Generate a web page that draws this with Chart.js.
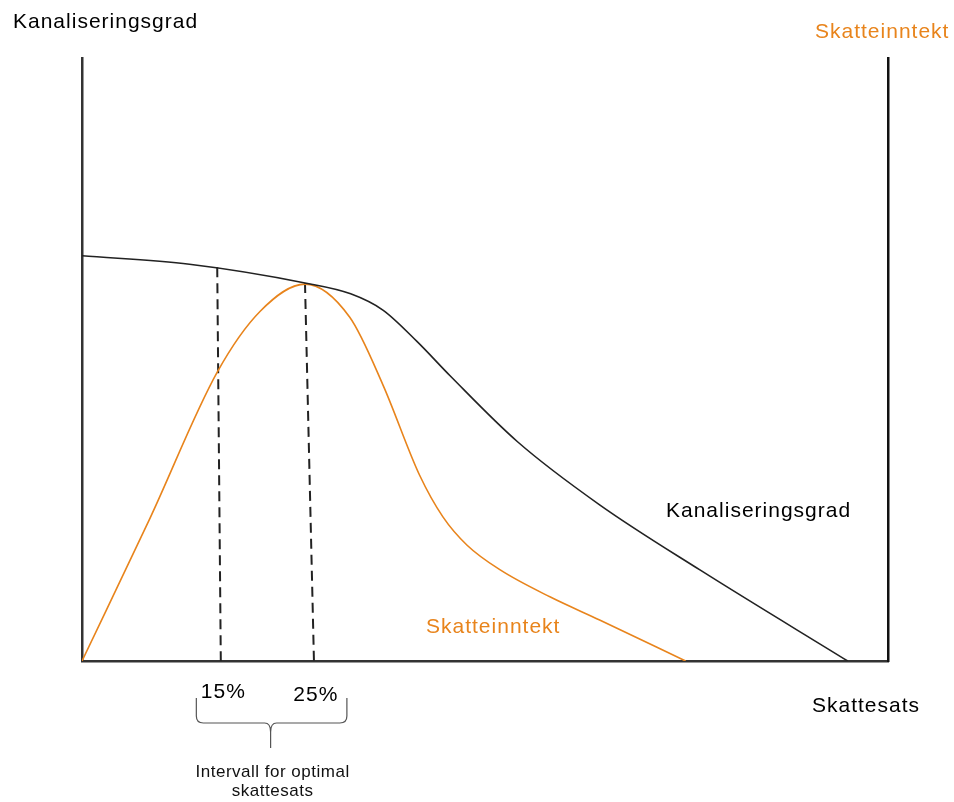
<!DOCTYPE html>
<html>
<head>
<meta charset="utf-8">
<title>Kanaliseringsgrad og skatteinntekt</title>
<script src="https://cdn.jsdelivr.net/npm/chart.js@4/dist/chart.umd.min.js"></script>
<style>
  html, body { margin: 0; padding: 0; background: #fff; }
  #wrap { width: 954px; height: 802px; }
</style>
</head>
<body>
<div id="wrap"><canvas id="chart" width="954" height="802"></canvas></div>
<script>
// skattesats (%) og kanaliseringsgrad
const channelRate = [0, 12, 24.9, 30, 33.6, 37.4, 41.1, 48.6, 57.8, 69, 85.5]
const channelling = [67.2, 65.8, 62.7, 60.9, 58.2, 53.0, 47.3, 36.4, 25.9, 15.1, 0]

// skattesats (%) og skatteinntekt
const revenueRate = [0, 7.6, 15.1, 19.9, 24.9, 29.9, 33.6, 37.7, 40.3, 43, 46.7, 52.3, 57.8, 67.4]
const revenue = [0, 23.7, 47.9, 58.0, 62.5, 57.0, 45.8, 30.8, 23.9, 19.2, 15.1, 10.6, 6.8, 0]

// stiplede linjer for intervallet
const lowLine = {x: [15.1, 15.5], y: [65.3, 0]}
const highLine = {x: [24.9, 25.9], y: [62.7, 0]}
const tickValues = [15, 25]
const tickLabels = ['15%', '25%']

const orange = '#e8841c'
const dark = '#222'
const font = '"Liberation Sans", Arial, Helvetica, sans-serif'

const toPoints = (xs, ys) => xs.map((x, i) => ({x: x, y: ys[i]}))

const labels = {
    id: 'labels',
    afterDraw(chart) {
        const ctx = chart.ctx
        const xs = chart.scales.x
        const ys = chart.scales.y
        const txt = (s, x, y, size, color, align) => {
            ctx.font = size + 'px ' + font
            ctx.fillStyle = color
            ctx.textAlign = align || 'left'
            ctx.textBaseline = 'alphabetic'
            ctx.fillText(s, x, y)
        }
        ctx.save()
        ctx.letterSpacing = '1px'
        // aksetitler
        txt('Kanaliseringsgrad', 13, 28, 21, '#000')
        txt('Skatteinntekt', 815, 38, 21, orange)
        txt('Skattesats', 812, 712, 21, '#000')
        // kurvenavn
        txt('Kanaliseringsgrad', 666, 517, 21, '#000')
        txt('Skatteinntekt', 426, 633, 21, orange)

        // 15% og 25%
        tickValues.forEach((v, i) => {
            txt(tickLabels[i], xs.getPixelForValue(v) + 7 + i * 3, 698 + i * 3, 21, '#000', 'center')
        })

        // klamme
        const l = xs.getPixelForValue(15) - 20
        const r = xs.getPixelForValue(25) + 41
        const m = (l + r) / 2 - 1
        const top = ys.bottom + 37, mid = ys.bottom + 62, tip = ys.bottom + 87
        ctx.strokeStyle = '#555'
        ctx.lineWidth = 1.2
        ctx.beginPath()
        ctx.moveTo(l, top)
        ctx.lineTo(l, mid - 7)
        ctx.quadraticCurveTo(l, mid, l + 7, mid)
        ctx.lineTo(m - 6, mid)
        ctx.quadraticCurveTo(m, mid, m, mid + 9)
        ctx.lineTo(m, tip)
        ctx.moveTo(r, top)
        ctx.lineTo(r, mid - 7)
        ctx.quadraticCurveTo(r, mid, r - 7, mid)
        ctx.lineTo(m + 6, mid)
        ctx.quadraticCurveTo(m, mid, m, mid + 9)
        ctx.stroke()

        ctx.letterSpacing = '0.5px'
        txt('Intervall for optimal', m + 2, 777, 17, '#111', 'center')
        txt('skattesats', m + 2, 796, 17, '#111', 'center')
        ctx.restore()
    }
}

const noSize = (prop) => (s) => { s[prop] = 0 }

new Chart(document.getElementById('chart'), {
    type: 'line',
    data: {
        datasets: [
            {
                data: toPoints(channelRate, channelling),
                borderColor: dark, borderWidth: 1.6,
                pointRadius: 0, cubicInterpolationMode: 'monotone'
            },
            {
                data: toPoints(revenueRate, revenue),
                borderColor: orange, borderWidth: 1.6,
                pointRadius: 0, cubicInterpolationMode: 'monotone'
            },
            {
                data: toPoints(lowLine.x, lowLine.y),
                borderColor: dark, borderWidth: 2, borderDash: [10, 6],
                pointRadius: 0
            },
            {
                data: toPoints(highLine.x, highLine.y),
                borderColor: dark, borderWidth: 2, borderDash: [10, 6],
                pointRadius: 0
            }
        ]
    },
    options: {
        responsive: false,
        animation: false,
        layout: {padding: {left: 82, right: 66, top: 58, bottom: 141}},
        plugins: {legend: {display: false}, tooltip: {enabled: false}},
        scales: {
            x: {
                type: 'linear', min: 0, max: 90,
                grid: {display: false},
                ticks: {display: false},
                border: {display: true, color: '#333', width: 2.5},
                afterFit: noSize('height')
            },
            y: {
                min: 0, max: 100, position: 'left',
                grid: {display: false},
                ticks: {display: false},
                border: {display: true, color: '#333', width: 2.5},
                afterFit: noSize('width')
            },
            y2: {
                min: 0, max: 100, position: 'right',
                grid: {display: false},
                ticks: {display: false},
                border: {display: true, color: '#111', width: 2.5},
                afterFit: noSize('width')
            }
        }
    },
    plugins: [labels]
})
</script>
</body>
</html>
